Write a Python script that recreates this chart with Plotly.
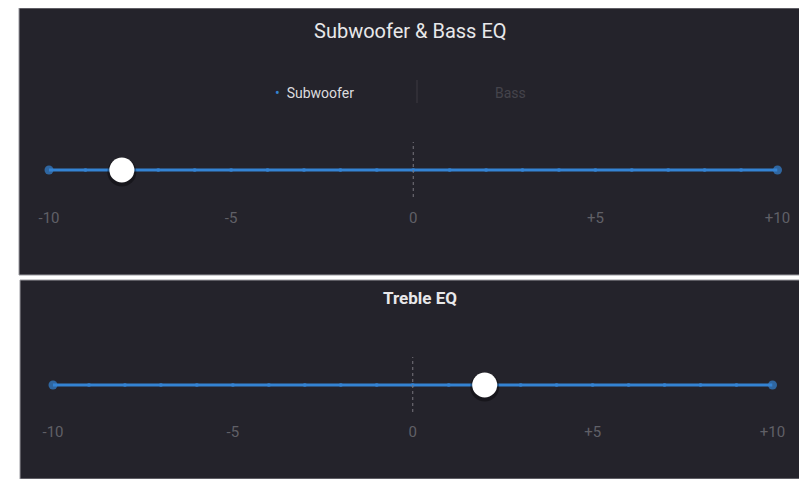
import plotly.graph_objects as go

# ---- data ----
steps = list(range(-10, 11))
tick_vals = [-10, -5, 0, 5, 10]
tick_labels = ["-10", "-5", "0", "+5", "+10"]
subwoofer_value = -8
treble_value = 2
panel_titles = ["Subwoofer & Bass EQ", "Treble EQ"]
tabs = ["Subwoofer", "Bass"]

BG = "#24232b"
BLUE = "#3483d3"
LABEL = "#606067"
OFF = 8  # page body margin
W, H = 807 - OFF, 479 - OFF

def px(x):
    return max(0.0, min(1.0, (x - OFF) / W))

def py(y):
    return max(0.0, min(1.0, (H - (y - OFF)) / H))

fig = go.Figure()

def add_slider(xa, ya, value, label_y):
    fig.add_trace(go.Scatter(x=steps, y=[0]*len(steps), mode="lines+markers",
                             line=dict(color=BLUE, width=3),
                             marker=dict(color=BLUE, size=[9] + [4]*(len(steps)-2) + [9], line=dict(width=0)),
                             xaxis=xa, yaxis=ya, cliponaxis=False, hoverinfo="skip", showlegend=False))
    fig.add_trace(go.Scatter(x=[0, 0], y=[-27, 28], mode="lines",
                             line=dict(color="#77767e", width=1, dash="dot"),
                             xaxis=xa, yaxis=ya, hoverinfo="skip", showlegend=False))
    fig.add_trace(go.Scatter(x=[value], y=[-2], mode="markers",
                             marker=dict(color="rgba(0,0,0,0.35)", size=29, line=dict(width=0)),
                             xaxis=xa, yaxis=ya, cliponaxis=False, hoverinfo="skip", showlegend=False))
    fig.add_trace(go.Scatter(x=[value], y=[0], mode="markers",
                             marker=dict(color="white", size=25, line=dict(width=0)),
                             xaxis=xa, yaxis=ya, cliponaxis=False, hoverinfo="skip", showlegend=False))
    fig.add_trace(go.Scatter(x=tick_vals, y=[label_y]*len(tick_vals), mode="text",
                             text=tick_labels, textfont=dict(color=LABEL, size=15, family="Roboto"),
                             xaxis=xa, yaxis=ya, cliponaxis=False, hoverinfo="skip", showlegend=False))

add_slider("x", "y", subwoofer_value, -49)
add_slider("x2", "y2", treble_value, -48)

ax = dict(showgrid=False, zeroline=False, showticklabels=False, showline=False, ticks="", fixedrange=True)
fig.update_layout(
    width=W, height=H, margin=dict(l=0, r=0, t=0, b=0),
    paper_bgcolor="white", plot_bgcolor="rgba(0,0,0,0)",
    xaxis=dict(ax, domain=[px(49), px(777.5)], range=[-10, 10], anchor="y"),
    yaxis=dict(ax, domain=[py(275), py(8)], range=[-105, 162], anchor="x"),
    xaxis2=dict(ax, domain=[px(53), px(772.5)], range=[-10, 10], anchor="y2"),
    yaxis2=dict(ax, domain=[py(479), py(280)], range=[-94, 105], anchor="x2"),
    showlegend=False,
)

fig.add_shape(type="rect", xref="paper", yref="paper", x0=px(19), x1=1, y0=py(275), y1=1,
              fillcolor=BG, line=dict(color="#9a9aa0", width=1), layer="below")
fig.add_shape(type="rect", xref="paper", yref="paper", x0=px(20), x1=px(805), y0=0, y1=py(280),
              fillcolor=BG, line=dict(color="#9a9aa0", width=1), layer="below")

fig.add_annotation(text=panel_titles[0], xref="paper", yref="y", x=px(410), y=139, showarrow=False,
                   font=dict(color="#e8e8ea", size=20, family="Roboto"))
fig.add_annotation(text="<b>" + panel_titles[1] + "</b>", xref="paper", yref="y2", x=px(420), y=87, showarrow=False,
                   font=dict(color="#e8e8ea", size=17, family="Roboto"))

fig.add_annotation(text="<span style='color:%s'>•</span>  %s" % (BLUE, tabs[0]), xref="paper", yref="y",
                   x=px(314), y=77, showarrow=False, font=dict(color="#dcdcdf", size=14, family="Roboto"))
fig.add_annotation(text=tabs[1], xref="paper", yref="y", x=px(510), y=77, showarrow=False,
                   font=dict(color="#45444c", size=14, family="Roboto"))
fig.add_shape(type="line", xref="paper", yref="y", x0=px(417), x1=px(417), y0=67, y1=90,
              line=dict(color="#3c3b43", width=1))

fig.write_html("out.html")
